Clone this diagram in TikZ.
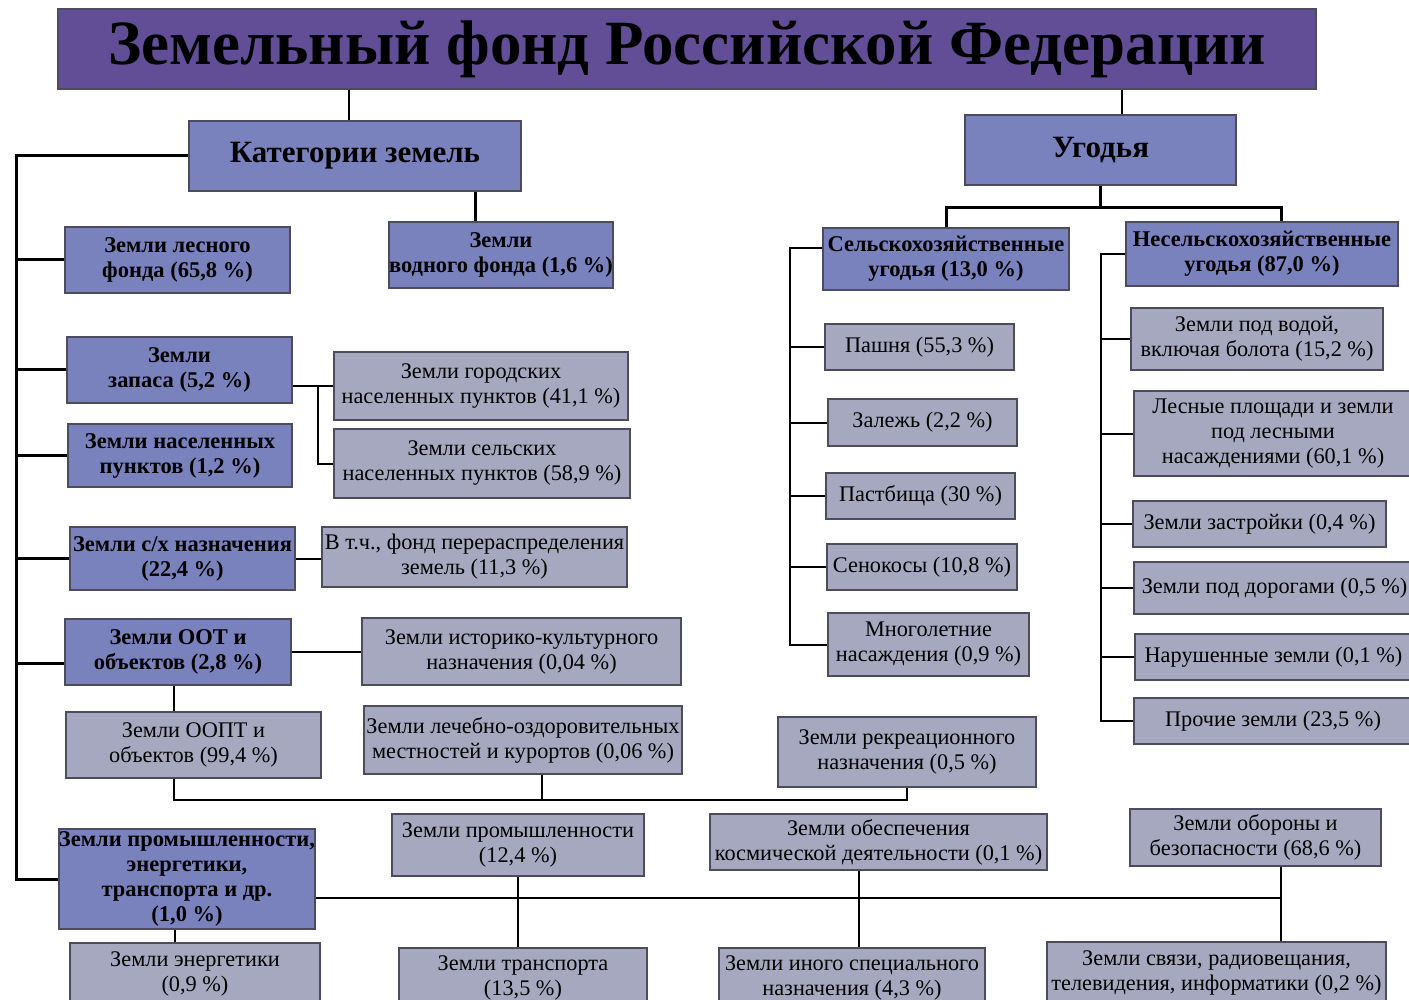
\documentclass[tikz,border=0pt]{standalone}
\usepackage{fontspec}
\setmainfont{Liberation Serif}
\usepackage{tikz}
\usetikzlibrary{positioning,calc}

\definecolor{titlefill}{HTML}{624E96}
\definecolor{catfill}{HTML}{7A82BE}
\definecolor{subfill}{HTML}{A6A8BF}
\definecolor{boxline}{HTML}{4C4C5C}

\tikzset{
  box/.style={draw=boxline, line width=1.2pt, align=center, inner sep=0pt},
  head/.style={box, fill=titlefill, font=\bfseries\fontsize{63}{66}\selectfont},
  big/.style={font=\bfseries\fontsize{31}{34}\selectfont},
  cat/.style={box, fill=catfill, font=\bfseries\fontsize{22.5}{25}\selectfont},
  sub/.style={box, fill=subfill, font=\fontsize{22.3}{25}\selectfont},
  sz/.style 2 args={minimum width=#1pt, minimum height=#2pt},
  trunk/.style={line width=3pt},
  link/.style={line width=2pt}
}

\begin{document}
\begin{tikzpicture}[x=1pt, y=-1pt]
  \useasboundingbox (0,0) rectangle (1409,1000);
  \clip (0,0) rectangle (1409,1000);

  \node[head, sz={1258}{80}] (fund) at (687,49) {Земельный фонд Российской Федерации};
  \node[cat, big, sz={332}{70}] (kat) at (355,156) {Категории земель};
  \node[cat, big, sz={271}{70}] (ugod) at (1100.5,150) {Угодья};

  \node[cat, sz={225}{66}] (les) at (177.5,260) {Земли лесного\\фонда (65,8 \%)};
  \node[cat, sz={224}{66}] (vod) at (501,255) {Земли\\водного фонда (1,6 \%)};
  \node[cat, sz={225}{66}] (zap) at (179.5,370) {Земли\\запаса (5,2 \%)};
  \node[cat, sz={224}{63}] (nasp) at (180,455.5) {Земли населенных\\пунктов (1,2 \%)};
  \node[cat, sz={225}{63}] (shn) at (182.5,558.5) {Земли с/х назначения\\(22,4 \%)};
  \node[cat, sz={226}{66}] (oot) at (178,652) {Земли ООТ и\\объектов (2,8 \%)};
  \node[cat, sz={256}{100}] (prom) at (187,879) {Земли промышленности,\\энергетики,\\транспорта и др.\\(1,0 \%)};

  \node[sub, sz={294}{68}] (gor) at (481,386) {Земли городских\\населенных пунктов (41,1 \%)};
  \node[sub, sz={296}{69}] (selp) at (482,463.5) {Земли сельских\\населенных пунктов (58,9 \%)};
  \node[sub, sz={305}{60}] (pfond) at (474.5,557) {В т.ч., фонд перераспределения\\земель (11,3 \%)};
  \node[sub, sz={319}{67}] (ist) at (521.5,651.5) {Земли историко-культурного\\назначения (0,04 \%)};
  \node[sub, sz={255}{66}] (oopt) at (193.5,745) {Земли ООПТ и\\объектов (99,4 \%)};
  \node[sub, sz={318}{68}] (lech) at (523,740) {Земли лечебно-оздоровительных\\местностей и курортов (0,06 \%)};
  \node[sub, sz={258}{70}] (rekr) at (907,752) {Земли рекреационного\\назначения (0,5 \%)};
  \node[sub, sz={250}{62}] (energ) at (195,974) {Земли энергетики\\(0,9 \%)};
  \node[sub, sz={252}{62}] (promy) at (518,845) {Земли промышленности\\(12,4 \%)};
  \node[sub, sz={248}{60}] (trans) at (523,978) {Земли транспорта\\(13,5 \%)};
  \node[sub, sz={337}{56}] (kosm) at (878.5,842) {Земли обеспечения\\космической деятельности (0,1 \%)};
  \node[sub, sz={266}{60}] (inogo) at (852,978) {Земли иного специального\\назначения (4,3 \%)};
  \node[sub, sz={251}{57}] (obor) at (1255.5,837.5) {Земли обороны и\\безопасности (68,6 \%)};
  \node[sub, sz={339}{62}] (svyaz) at (1216.5,973) {Земли связи, радиовещания,\\телевидения, информатики (0,2 \%)};

  \node[cat, sz={246}{62}] (sxu) at (946,259) {Сельскохозяйственные\\угодья (13,0 \%)};
  \node[cat, sz={272}{64}] (nsxu) at (1262,254) {Несельскохозяйственные\\угодья (87,0 \%)};
  \node[sub, sz={189}{46}] (pash) at (919.5,347) {Пашня (55,3 \%)};
  \node[sub, sz={189}{47}] (zal) at (922.5,422.5) {Залежь (2,2 \%)};
  \node[sub, sz={189}{46}] (past) at (920.5,496) {Пастбища (30 \%)};
  \node[sub, sz={190}{46}] (seno) at (922,567) {Сенокосы (10,8 \%)};
  \node[sub, sz={201}{63}] (mnog) at (928.5,644.5) {Многолетние\\насаждения (0,9 \%)};
  \node[sub, sz={252}{62}] (voda) at (1257,339) {Земли под водой,\\включая болота (15,2 \%)};
  \node[sub, sz={278}{85}] (lesn) at (1273,433.5) {Лесные площади и земли\\под лесными\\насаждениями (60,1 \%)};
  \node[sub, sz={253}{46}] (zastr) at (1259.5,524) {Земли застройки (0,4 \%)};
  \node[sub, sz={281}{52}] (dorog) at (1274.5,588) {Земли под дорогами (0,5 \%)};
  \node[sub, sz={277}{46}] (narush) at (1273.5,657) {Нарушенные земли (0,1 \%)};
  \node[sub, sz={278}{46}] (proch) at (1273,721) {Прочие земли (23,5 \%)};

  \coordinate (trunk) at (16,0);
  \coordinate (jz) at (318,0);
  \coordinate (jk) at (859,0);
  \coordinate (jo) at (1281,0);
  \coordinate (js) at (790,0);
  \coordinate (jr) at (1101,0);
  \coordinate (bus1) at (0,800);
  \coordinate (bus3) at (0,208);

  \draw[link] ([xshift=-6pt]kat.north) -- ([xshift=-6pt]kat.north |- fund.south);
  \draw[link] ([xshift=21pt]ugod.north) -- ([xshift=21pt]ugod.north |- fund.south);
  \draw[trunk] ([xshift=-26pt]vod.north) -- ([xshift=-26pt]vod.north |- kat.south);
  \draw[trunk] (kat.west) -| (trunk |- prom.west) -- (prom.west);
  \foreach \n in {les,zap,nasp,shn}
    \draw[trunk] (\n.west) -- (\n.west -| trunk);
  \draw[trunk] ([yshift=-11pt]oot.west) -- ([yshift=-11pt]oot.west -| trunk);

  \draw[link] (zap.east |- gor.west) -- (gor.west) (gor.west -| jz) |- (selp.west);
  \draw[link] (shn.east) -- (shn.east -| pfond.west);
  \draw[link] (oot.east) -- (oot.east -| ist.west);
  \draw[link] ([xshift=-4pt]oot.south) -- ([xshift=-4pt]oot.south |- oopt.north);
  \draw[link] ([xshift=-20pt]oopt.south) |- (rekr.south |- bus1) -- (rekr.south);
  \draw[link] ([xshift=19pt]lech.south) -- ([xshift=19pt]lech.south |- bus1);
  \draw[link] ([xshift=-12pt]prom.south) -- ([xshift=-12pt]prom.south |- energ.north);
  \draw[link] ([yshift=-19pt]prom.east) -- ([yshift=-19pt]prom.east -| jo);
  \draw[link] (promy.south) -- (promy.south |- trans.north);
  \draw[link] (kosm.south -| jk) -- (inogo.north -| jk);
  \draw[link] (obor.south -| jo) -- (svyaz.north -| jo);

  \draw[trunk] (ugod.south) -- (ugod.south |- bus3);
  \draw[trunk] (sxu.north) |- (bus3 -| jo) -- (nsxu.north -| jo);
  \draw[link] ([yshift=11pt]sxu.west) -| (js |- mnog.west) -- (mnog.west);
  \foreach \n in {pash,zal,past,seno}
    \draw[link] (\n.west) -- (\n.west -| js);
  \draw[link] (nsxu.west) -| (jr |- proch.west) -- (proch.west);
  \foreach \n in {voda,lesn,zastr,dorog,narush}
    \draw[link] (\n.west) -- (\n.west -| jr);
\end{tikzpicture}
\end{document}
